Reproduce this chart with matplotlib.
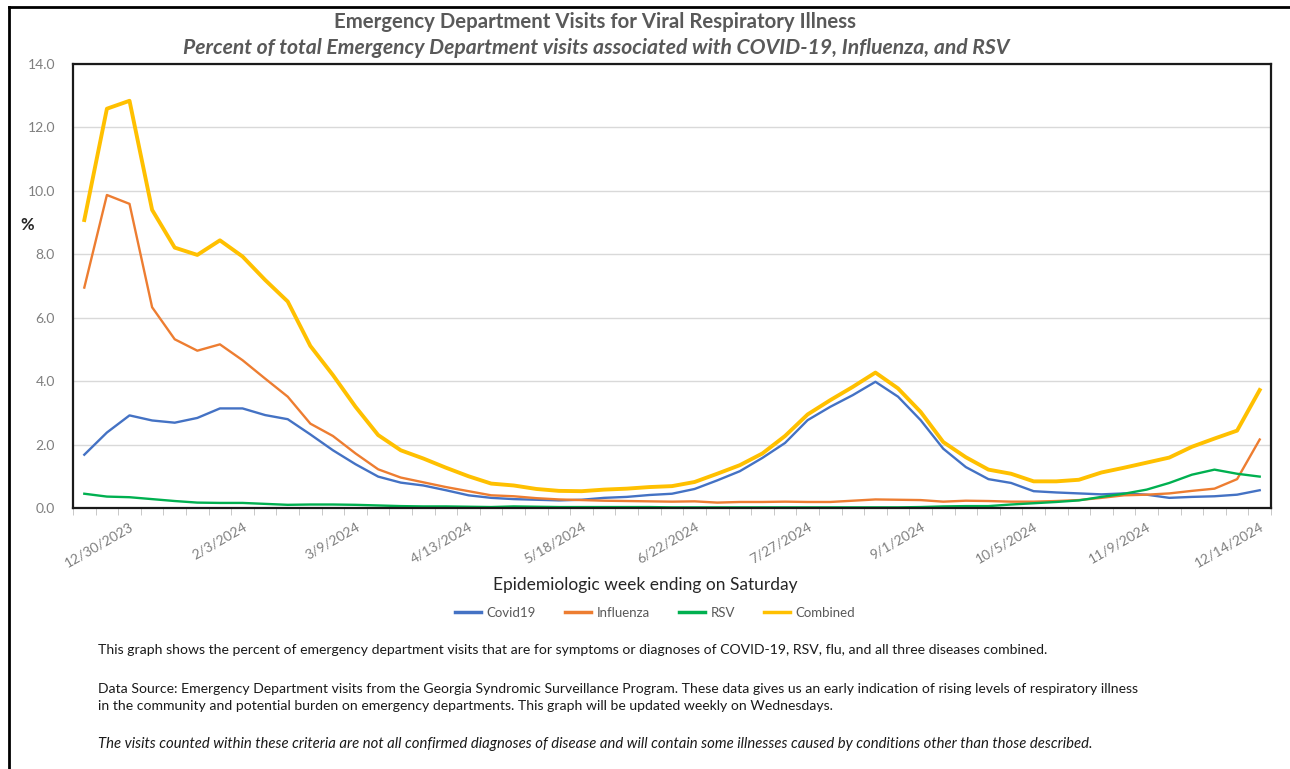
import matplotlib
matplotlib.use("Agg")
import matplotlib.pyplot as plt
import numpy as np
from matplotlib.lines import Line2D

# weekly series, epi week ending 12/16/2023 .. 12/14/2024 (53 weeks)
covid19 = [1.68, 2.38, 2.92, 2.76, 2.69, 2.84, 3.14, 3.14, 2.93, 2.80,
           2.32, 1.82, 1.38, 0.99, 0.80, 0.71, 0.56, 0.40, 0.32, 0.28,
           0.26, 0.24, 0.26, 0.32, 0.35, 0.41, 0.45, 0.60, 0.87, 1.16,
           1.58, 2.05, 2.77, 3.19, 3.56, 3.98, 3.51, 2.77, 1.87, 1.29,
           0.91, 0.79, 0.53, 0.49, 0.46, 0.43, 0.46, 0.42, 0.32, 0.35,
           0.37, 0.42, 0.56]
influenza = [6.95, 9.87, 9.59, 6.33, 5.32, 4.96, 5.16, 4.66, 4.08, 3.51,
             2.66, 2.27, 1.72, 1.22, 0.96, 0.81, 0.66, 0.53, 0.40, 0.37,
             0.31, 0.27, 0.25, 0.23, 0.22, 0.21, 0.20, 0.21, 0.17, 0.19,
             0.19, 0.20, 0.19, 0.19, 0.23, 0.27, 0.26, 0.25, 0.20, 0.23,
             0.22, 0.20, 0.20, 0.22, 0.25, 0.32, 0.40, 0.42, 0.46, 0.54,
             0.61, 0.91, 2.16]
rsv = [0.45, 0.36, 0.34, 0.28, 0.22, 0.17, 0.16, 0.16, 0.13, 0.10,
       0.11, 0.11, 0.10, 0.08, 0.06, 0.05, 0.05, 0.04, 0.03, 0.05,
       0.04, 0.03, 0.03, 0.03, 0.03, 0.03, 0.02, 0.02, 0.02, 0.02,
       0.02, 0.02, 0.02, 0.02, 0.02, 0.02, 0.02, 0.03, 0.05, 0.06,
       0.06, 0.11, 0.15, 0.19, 0.24, 0.35, 0.45, 0.58, 0.79, 1.05,
       1.21, 1.08, 0.99]
combined = [9.08, 12.59, 12.84, 9.40, 8.21, 7.98, 8.44, 7.93, 7.19, 6.51,
            5.11, 4.19, 3.19, 2.30, 1.82, 1.56, 1.27, 1.00, 0.77, 0.71,
            0.60, 0.54, 0.53, 0.58, 0.61, 0.66, 0.69, 0.82, 1.08, 1.35,
            1.72, 2.27, 2.95, 3.40, 3.82, 4.27, 3.77, 3.03, 2.08, 1.60,
            1.21, 1.08, 0.84, 0.84, 0.89, 1.12, 1.27, 1.43, 1.59, 1.93,
            2.19, 2.44, 3.72]

tick_pos = [2, 7, 12, 17, 22, 27, 32, 37, 42, 47, 52]
tick_labels = ["12/30/2023", "2/3/2024", "3/9/2024", "4/13/2024", "5/18/2024",
               "6/22/2024", "7/27/2024", "9/1/2024", "10/5/2024", "11/9/2024",
               "12/14/2024"]

plt.rcParams["font.family"] = ["Lato", "DejaVu Sans"]

GRAY = "#595959"
fig = plt.figure(figsize=(12.9, 7.69), dpi=100)
ax = fig.add_axes([73 / 1290, 1 - 508 / 769, (1271 - 73) / 1290, (508 - 64) / 769])

x = np.arange(len(combined))
ax.plot(x, covid19, color="#4472C4", lw=1.7, label="Covid19")
ax.plot(x, influenza, color="#ED7D31", lw=1.7, label="Influenza")
ax.plot(x, rsv, color="#00B050", lw=1.7, label="RSV")
ax.plot(x, combined, color="#FFC000", lw=2.8, label="Combined")

ax.set_xlim(-0.5, len(combined) - 0.5)
ax.set_ylim(0, 14)
ax.set_yticks(np.arange(0, 14.1, 2))
ax.set_yticklabels([f"{v:.1f}" for v in np.arange(0, 14.1, 2)], color="#7f7f7f", fontsize=10)
ax.tick_params(axis="y", length=0, pad=13)
ax.grid(axis="y", color="#d9d9d9", lw=1)
ax.set_axisbelow(True)

ax.set_xticks(tick_pos)
ax.set_xticklabels(tick_labels, rotation=30, ha="right", rotation_mode="anchor",
                   color="#7f7f7f", fontsize=10)
ax.tick_params(axis="x", which="major", length=0, pad=9)
ax.set_xticks(np.arange(-0.5, len(combined), 1), minor=True)
ax.tick_params(axis="x", which="minor", length=5, color="#bfbfbf", direction="out")

for s in ax.spines.values():
    s.set_color("#1a1a1a")
    s.set_linewidth(1.6)

fig.text(27 / 1290, 1 - 225 / 769, "%", fontsize=12, fontweight="bold",
         color="#262626", ha="center", va="center")

fig.text(595 / 1290, 1 - 22 / 769, "Emergency Department Visits for Viral Respiratory Illness",
         fontsize=14.7, fontweight="bold", color=GRAY, ha="center", va="center")
fig.text(596 / 1290, 1 - 48 / 769,
         "Percent of total Emergency Department visits associated with COVID-19, Influenza, and RSV",
         fontsize=15.2, fontweight="bold", style="italic", color=GRAY, ha="center", va="center")

fig.text(645 / 1290, 1 - 585 / 769, "Epidemiologic week ending on Saturday",
         fontsize=12.5, color="#262626", ha="center", va="center")

handles = [Line2D([], [], color=c, lw=2.5) for c in ["#4472C4", "#ED7D31", "#00B050", "#FFC000"]]
fig.legend(handles, ["Covid19", "Influenza", "RSV", "Combined"], loc="center",
           bbox_to_anchor=(655 / 1290, 1 - 613 / 769), ncol=4, frameon=False,
           fontsize=9.5, labelcolor=GRAY, handlelength=2.0, handletextpad=0.4,
           columnspacing=2.2)

notes = [
    (650, "This graph shows the percent of emergency department visits that are for symptoms or diagnoses of COVID-19, RSV, flu, and all three diseases combined.", "normal", 10.1),
    (689, "Data Source: Emergency Department visits from the Georgia Syndromic Surveillance Program. These data gives us an early indication of rising levels of respiratory illness", "normal", 10.1),
    (706, "in the community and potential burden on emergency departments. This graph will be updated weekly on Wednesdays.", "normal", 10.1),
    (744, "The visits counted within these criteria are not all confirmed diagnoses of disease and will contain some illnesses caused by conditions other than those described.", "italic", 10.7),
]
for ypix, txt, st, fs in notes:
    fig.text(98 / 1290, 1 - ypix / 769, txt, fontsize=fs, style=st, color="#1a1a1a",
             ha="left", va="center")

# outer frame lines (top and left)
fig.add_artist(Line2D([9 / 1290, 1], [1 - 7 / 769, 1 - 7 / 769], color="black", lw=2))
fig.add_artist(Line2D([9 / 1290, 9 / 1290], [0, 1 - 7 / 769], color="black", lw=2))

fig.savefig("out.png", dpi=100)
